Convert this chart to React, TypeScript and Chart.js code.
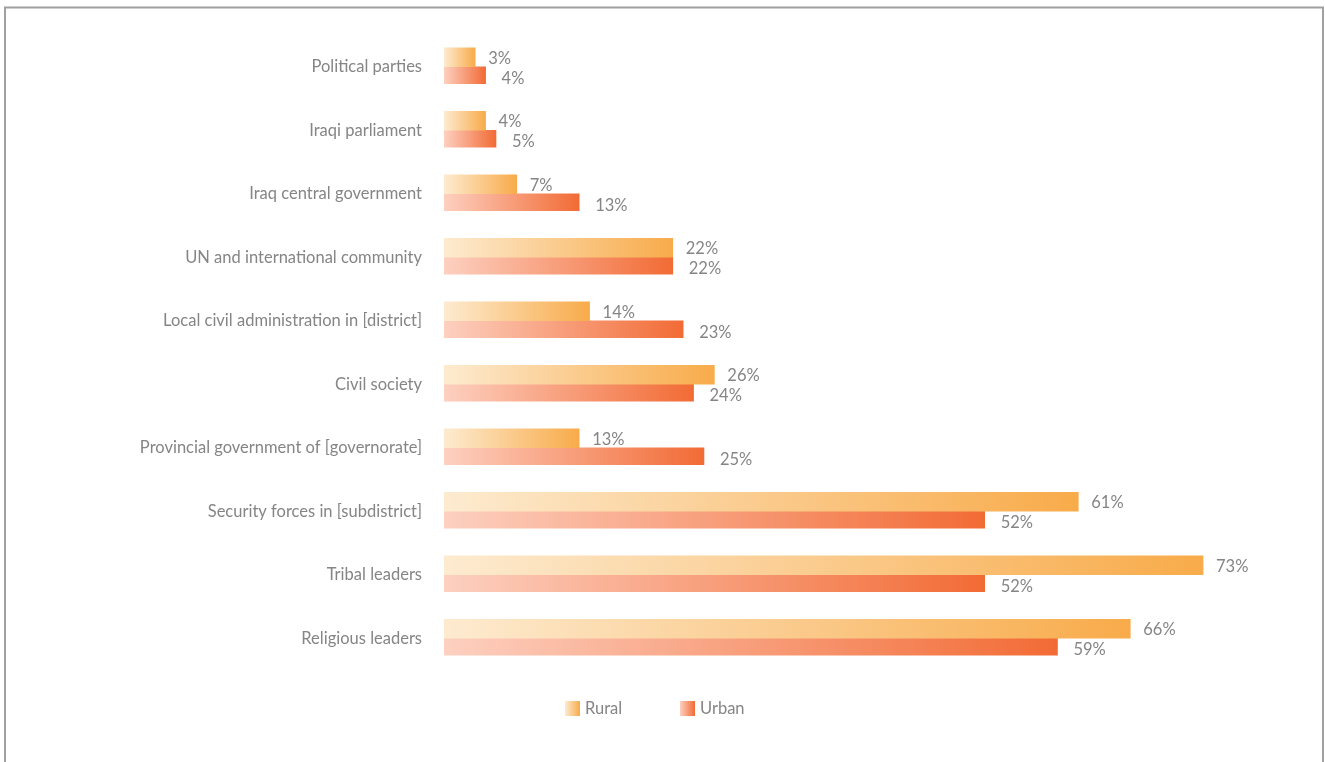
import React, { useEffect, useRef } from "react";
import { Chart, registerables } from "chart.js";

Chart.register(...registerables);

const categories = [
  "Political parties",
  "Iraqi parliament",
  "Iraq central government",
  "UN and international community",
  "Local civil administration in [district]",
  "Civil society",
  "Provincial government of [governorate]",
  "Security forces in [subdistrict]",
  "Tribal leaders",
  "Religious leaders",
];
const ruralValues = [3, 4, 7, 22, 14, 26, 13, 61, 73, 66];
const urbanValues = [4, 5, 13, 22, 23, 24, 25, 52, 52, 59];
const seriesNames = ["Rural", "Urban"];

const FONT = "Lato, 'Open Sans', sans-serif";
const TEXT = "#858585";
const RURAL = ["#fdebd0", "#f8ab4a"];
const URBAN = ["#fdd0c0", "#f26b35"];

function barGradient(ctx: any, stops: string[]) {
  const chart = ctx.chart;
  const xs = chart.scales?.x;
  if (!xs || ctx.type !== "data") return stops[1];
  const v = ctx.raw as number;
  const x0 = xs.getPixelForValue(0);
  const x1 = xs.getPixelForValue(v);
  if (!isFinite(x0) || !isFinite(x1) || x1 - x0 < 1) return stops[1];
  const g = chart.ctx.createLinearGradient(x0, 0, x1, 0);
  g.addColorStop(0, stops[0]);
  g.addColorStop(1, stops[1]);
  return g;
}

const framePlugin = {
  id: "frame",
  beforeDraw(chart: any) {
    const c = chart.ctx;
    c.save();
    c.fillStyle = "#ffffff";
    c.fillRect(0, 0, chart.width, chart.height);
    c.strokeStyle = "#a0a0a0";
    c.lineWidth = 2;
    c.beginPath();
    c.moveTo(5, chart.height + 2);
    c.lineTo(5, 7.5);
    c.lineTo(1323, 7.5);
    c.lineTo(1323, chart.height + 2);
    c.stroke();
    c.restore();
  },
};

const valueLabelPlugin = {
  id: "valueLabels",
  afterDatasetsDraw(chart: any) {
    const c = chart.ctx;
    c.save();
    c.font = `16.5px ${FONT}`;
    c.fillStyle = TEXT;
    c.textAlign = "left";
    c.textBaseline = "middle";
    chart.data.datasets.forEach((ds: any, di: number) => {
      const meta = chart.getDatasetMeta(di);
      meta.data.forEach((el: any, i: number) => {
        const dx = di === 0 ? 13 : 16;
        const dy = di === 0 ? 1 : 3;
        c.fillText(ds.data[i] + "%", el.x + dx, el.y + dy);
      });
    });
    c.restore();
  },
};

const legendPlugin = {
  id: "customLegend",
  afterDraw(chart: any) {
    const c = chart.ctx;
    const items = [
      { name: seriesNames[0], stops: RURAL, x: 565 },
      { name: seriesNames[1], stops: URBAN, x: 680 },
    ];
    const y = 701;
    c.save();
    c.font = `16.5px ${FONT}`;
    c.textBaseline = "middle";
    c.textAlign = "left";
    items.forEach((it) => {
      const g = c.createLinearGradient(it.x, 0, it.x + 15, 0);
      g.addColorStop(0, it.stops[0]);
      g.addColorStop(1, it.stops[1]);
      c.fillStyle = g;
      c.fillRect(it.x, y, 15, 15);
      c.fillStyle = TEXT;
      c.fillText(it.name, it.x + 20, y + 8);
    });
    c.restore();
  },
};

export default function App() {
  const ref = useRef<HTMLCanvasElement | null>(null);
  useEffect(() => {
    document.body.style.overflow = "hidden";
    const canvas = ref.current!;
    const chart = new Chart(canvas, {
      type: "bar",
      data: {
        labels: categories,
        datasets: [
          {
            label: seriesNames[0],
            data: ruralValues,
            backgroundColor: (ctx: any) => barGradient(ctx, RURAL),
            barThickness: 19,
          },
          {
            label: seriesNames[1],
            data: urbanValues,
            backgroundColor: (ctx: any) => barGradient(ctx, URBAN),
            barThickness: 17,
          },
        ],
      },
      options: {
        indexAxis: "y",
        animation: false,
        responsive: false,
        devicePixelRatio: 1,
        layout: { padding: { left: 0, right: 45, top: 35, bottom: 92 } },
        plugins: {
          legend: { display: false },
          tooltip: { enabled: false },
        },
        scales: {
          x: {
            display: false,
            min: 0,
            max: 80.4,
          },
          y: {
            grid: { display: false, drawTicks: false },
            border: { display: false },
            ticks: {
              color: TEXT,
              font: { family: FONT, size: 16.5 },
              padding: 22,
            },
            afterFit: (scale: any) => {
              scale.width = 444;
            },
          },
        },
      },
      plugins: [framePlugin, valueLabelPlugin, legendPlugin],
    });
    return () => chart.destroy();
  }, []);
  return (
    <canvas
      ref={ref}
      width={1325}
      height={762}
      style={{ position: "fixed", left: 0, top: 0, width: 1325, height: 762, display: "block" }}
    />
  );
}
